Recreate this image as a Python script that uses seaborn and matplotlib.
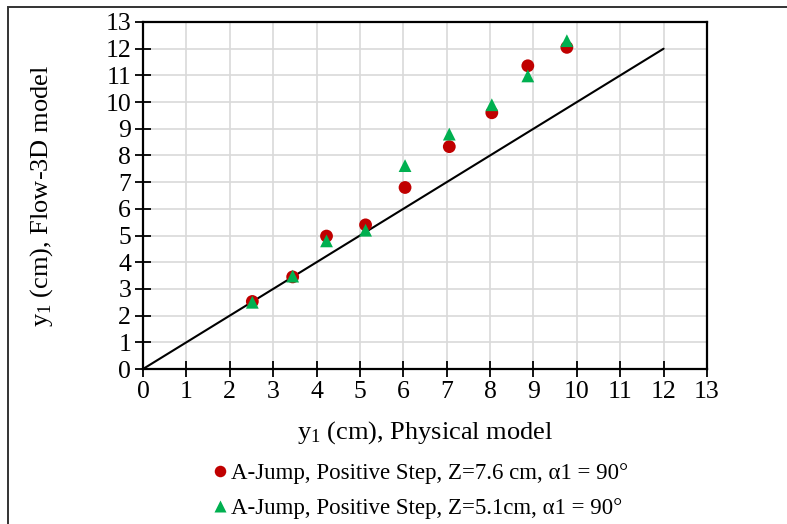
import matplotlib
matplotlib.use("Agg")
import matplotlib.pyplot as plt
import seaborn as sns
import pandas as pd
from matplotlib.patches import Rectangle

# ---- data ----
series_names = ["A-Jump, Positive Step, Z=7.6 cm, \u03b11 = 90\u00b0",
                "A-Jump, Positive Step, Z=5.1cm, \u03b11 = 90\u00b0"]
x_phys_a = [2.52, 3.45, 4.23, 5.13, 6.04, 7.06, 8.04, 8.87, 9.77]
y_flow_a = [2.53, 3.45, 4.98, 5.40, 6.80, 8.33, 9.60, 11.36, 12.05]
x_phys_b = [2.52, 3.45, 4.23, 5.13, 6.04, 7.06, 8.04, 8.87, 9.77]
y_flow_b = [2.50, 3.48, 4.80, 5.20, 7.62, 8.80, 9.90, 10.98, 12.30]
line_x = [0, 12]
line_y = [0, 12]
ticks = list(range(0, 14))

df = pd.concat([
    pd.DataFrame({"x": x_phys_a, "y": y_flow_a, "series": series_names[0]}),
    pd.DataFrame({"x": x_phys_b, "y": y_flow_b, "series": series_names[1]}),
])

sns.set_theme(style="white")
plt.rcParams["font.family"] = ["Liberation Serif", "DejaVu Serif"]
plt.rcParams["mathtext.fontset"] = "custom"
plt.rcParams["mathtext.rm"] = "Liberation Serif"
plt.rcParams["mathtext.it"] = "Liberation Serif:italic"
plt.rcParams["text.color"] = "black"

fig = plt.figure(figsize=(7.87, 5.24), dpi=100)
ax = fig.add_axes([143/787, 1-369/524, (707-143)/787, (369-22)/524])

# outer chart frame
fig.patches.append(Rectangle((8/787, -0.05), 1.2, 1-7/524+0.05, transform=fig.transFigure,
                             fill=False, edgecolor="#333333", linewidth=1.4, clip_on=False))

sns.lineplot(x=line_x, y=line_y, ax=ax, color="black", linewidth=1.5, legend=False, zorder=2)
sns.scatterplot(data=df, x="x", y="y", hue="series", style="series",
                palette=["#C00000", "#00B050"], markers=["o", "^"],
                s=85, edgecolor="none", ax=ax, zorder=3)

ax.set_xlim(0, 13)
ax.set_ylim(0, 13)
ax.set_xticks(ticks)
ax.set_yticks(ticks)
ax.grid(True, color="#d9d9d9", linewidth=1.2)
ax.set_axisbelow(True)
for sp in ax.spines.values():
    sp.set_color("black")
    sp.set_linewidth(1.6)
ax.tick_params(direction="inout", length=11, width=1.3, colors="black",
               labelsize=18.5, pad=3, bottom=True, left=True)
ax.set_xlabel(r"y$_1$ (cm), Physical model", fontsize=19, color="black", labelpad=12)
ax.set_ylabel(r"y$_1$ (cm), Flow-3D model", fontsize=19, color="black", labelpad=36)

handles, labels = ax.get_legend_handles_labels()
leg = ax.legend(handles, labels, loc="upper center", bbox_to_anchor=(0.49, -0.245),
                frameon=False, fontsize=16.5, handletextpad=0.1, labelspacing=0.6,
                handlelength=0.8, markerscale=0.9, borderaxespad=0)
for t in leg.get_texts():
    t.set_color("black")

fig.savefig("out.png", dpi=100)
